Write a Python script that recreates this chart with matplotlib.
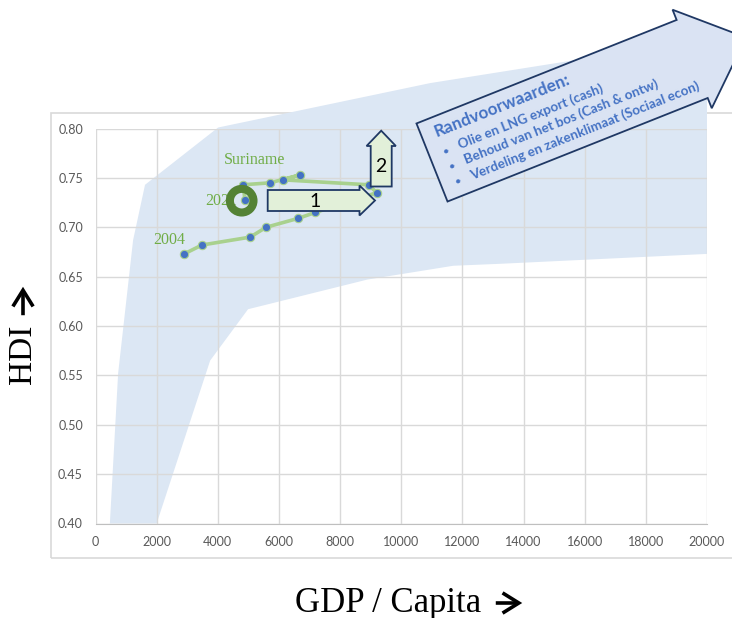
import matplotlib
matplotlib.use("Agg")
import matplotlib.pyplot as plt
import numpy as np
from matplotlib.patches import Polygon, Ellipse, Rectangle, FancyArrowPatch

W, H = 732, 618

# Suriname path, 2004 -> 2021 (GDP per capita, HDI)
gdp = [2900, 3480, 5060, 5580, 6630, 7190, 9200, 8930, 6130, 6690, 5710, 4820, 4890]
hdi = [0.673, 0.682, 0.690, 0.700, 0.709, 0.715, 0.735, 0.743, 0.748, 0.753, 0.745, 0.743, 0.728]

# light blue band (outline, GDP / HDI)
band_gdp = [470, 740, 1230, 1620, 4010, 10950, 15630, 20000, 20000, 13240, 11700, 8890, 4990, 3750, 2000]
band_hdi = [0.40, 0.552, 0.687, 0.743, 0.801, 0.846, 0.869, 0.872, 0.673, 0.663, 0.661, 0.647, 0.617, 0.565, 0.40]

x_ticks = list(range(0, 20001, 2000))
y_ticks = [0.40, 0.45, 0.50, 0.55, 0.60, 0.65, 0.70, 0.75, 0.80]

title_txt = "Randvoorwaarden:"
bullets = ["Olie en LNG export (cash)",
           "Behoud van het bos (Cash & ontw)",
           "Verdeling en zakenklimaat (Sociaal econ)"]

SERIF = ["Liberation Serif", "DejaVu Serif"]
SANS = ["Lato", "DejaVu Sans"]


def px(x, y):
    # image pixel (y down) -> figure fraction
    return x / W, 1 - y / H


def block_arrow(x0, y0, ang, length, shaft_w, head_w, head_len):
    a = np.radians(ang)
    u = np.array([np.cos(a), -np.sin(a)])
    v = np.array([np.sin(a), np.cos(a)])
    p0 = np.array([x0, y0])
    body = length - head_len
    pts = [p0 - v * shaft_w / 2, p0 + u * body - v * shaft_w / 2, p0 + u * body - v * head_w / 2,
           p0 + u * length, p0 + u * body + v * head_w / 2, p0 + u * body + v * shaft_w / 2,
           p0 + v * shaft_w / 2]
    return [px(*p) for p in pts]


def label_arrow(p_from, p_to):
    fig.patches.append(FancyArrowPatch(px(*p_from), px(*p_to), transform=fig.transFigure,
                                       arrowstyle="->,head_length=0.45,head_width=0.28",
                                       mutation_scale=26, lw=2.6, color="black",
                                       capstyle="butt", joinstyle="miter"))


fig = plt.figure(figsize=(W / 100, H / 100), dpi=100)

# chart area frame
fig.patches.append(Rectangle(px(51, 558), (740 - 51) / W, (558 - 113) / H, transform=fig.transFigure,
                             fill=False, edgecolor="#d9d9d9", lw=1.2, zorder=-1))

ax = fig.add_axes([95.5 / W, 1 - 523.5 / H, (707 - 95.5) / W, (523.5 - 128.5) / H])
ax.set_facecolor("none")
ax.set_xlim(0, 20000)
ax.set_ylim(0.40, 0.80)
ax.set_xticks(x_ticks)
ax.set_yticks(y_ticks)
ax.set_yticklabels([f"{t:.2f}" for t in y_ticks])
ax.grid(True, color="#d9d9d9", lw=1.0, zorder=1)
ax.set_axisbelow(False)
for s in ["top", "right", "left"]:
    ax.spines[s].set_visible(False)
ax.spines["bottom"].set_color("#bfbfbf")
ax.tick_params(length=0, pad=9, labelcolor="#595959", labelsize=9)
for lab in ax.get_xticklabels() + ax.get_yticklabels():
    lab.set_family(SANS)

ax.fill(band_gdp, band_hdi, color="#dce7f4", lw=0, clip_on=False, zorder=0.5)
ax.plot(gdp, hdi, color="#a9d18e", lw=2.6, zorder=3,
        marker="o", ms=6, mfc="#4472c4", mec="#a9d18e", mew=0.8)

ax.text(4200, 0.7676, "Suriname", color="#70ad47", family=SERIF, fontsize=11.5, va="center", zorder=4)
ax.text(1880, 0.6866, "2004", color="#70ad47", family=SERIF, fontsize=11.5, va="center", zorder=4)
ax.text(3600, 0.727, "2021", color="#70ad47", family=SERIF, fontsize=11.5, va="center", zorder=4)

# big arrow with conditions
fig.patches.append(Polygon(block_arrow(432, 162.5, 21.7, 338, 84, 106, 58), closed=True,
                           transform=fig.transFigure, facecolor="#dae3f3", edgecolor="#1f3864",
                           lw=1.3, zorder=5))
a = np.radians(21.7)
u = np.array([np.cos(a), -np.sin(a)])
v = np.array([np.sin(a), np.cos(a)])
T = np.array([435, 132.7])
fig.text(*px(*T), title_txt, rotation=21.7, rotation_mode="anchor", ha="left", va="center",
         color="#4472c4", family=SANS, fontweight="bold", fontsize=12.3, zorder=6)
for i, b in enumerate(bullets):
    pb = T + v * (21 + 16.5 * i)
    pt = T + u * 17 + v * (20 + 16.5 * i)
    fig.text(*px(*pb), "\u2022", rotation=21.7, rotation_mode="anchor", ha="left", va="center",
             color="#4472c4", family=SANS, fontsize=8.5, zorder=6)
    fig.text(*px(*pt), b, rotation=21.7, rotation_mode="anchor", ha="left", va="center",
             color="#4472c4", family=SANS, fontweight="bold", fontsize=9.7, zorder=6)

# arrow 1 (right) and arrow 2 (up)
fig.patches.append(Polygon(block_arrow(267.7, 200.5, 0, 107.3, 21, 30, 15.5), closed=True,
                           transform=fig.transFigure, facecolor="#e2f0d9", edgecolor="#1f3864",
                           lw=1.3, zorder=5))
fig.text(*px(315, 201), "1", ha="center", va="center", family=SANS, fontsize=14, zorder=6)
fig.patches.append(Polygon(block_arrow(381.2, 186.5, 90, 55.8, 21, 29.3, 15.3), closed=True,
                           transform=fig.transFigure, facecolor="#e2f0d9", edgecolor="#1f3864",
                           lw=1.3, zorder=5))
fig.text(*px(381.2, 166), "2", ha="center", va="center", family=SANS, fontsize=14, zorder=6)

# ring around 2021
fig.patches.append(Ellipse(px(241.7, 200.7), 2 * 11.8 / W, 2 * 11.8 / H, transform=fig.transFigure,
                           fill=False, edgecolor="#548235", lw=5.8, zorder=5))

# axis titles with arrows
fig.text(*px(23, 384), "HDI", rotation=90, rotation_mode="anchor", ha="left", va="center",
         family=SERIF, fontsize=24)
label_arrow((23, 318), (23, 284))
fig.text(*px(295, 603), "GDP / Capita", ha="left", va="center", family=SERIF, fontsize=25)
label_arrow((493, 603), (525, 603))

fig.savefig("out.png", dpi=100)
